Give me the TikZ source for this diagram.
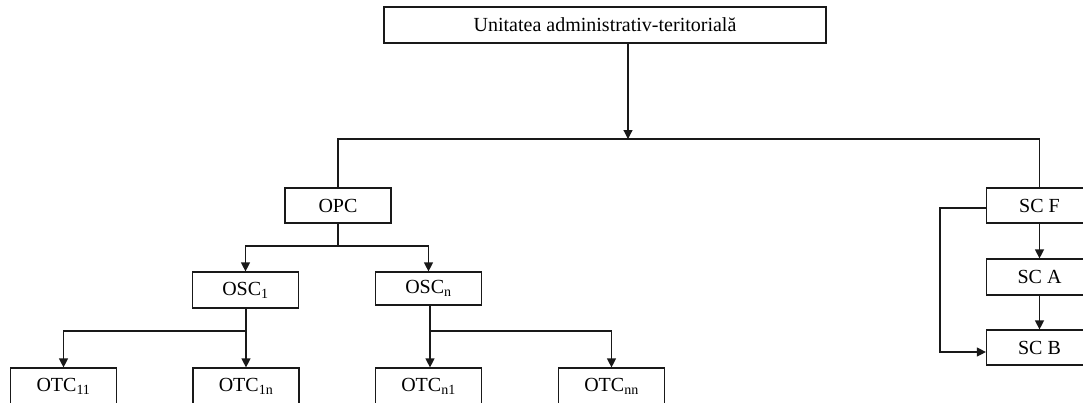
\documentclass[tikz,border=0pt]{standalone}
\usepackage{fontspec}
\setmainfont{Liberation Serif}
\usetikzlibrary{arrows.meta}
\begin{document}
\begin{tikzpicture}[x=1pt,y=-1pt,
  box/.style={draw=black!90, line width=1.2pt, inner sep=0pt, minimum width=106pt, minimum height=35pt, font=\fontsize{20}{24}\selectfont},
  link/.style={draw=black!90, line width=1.2pt},
  arr/.style={link, -{Triangle[width=9pt,length=9pt]}}]
\useasboundingbox (0,0) rectangle (1083,402);
\fill[white] (0,0) rectangle (1083,402);
% nodes
\node[box, minimum width=442pt, minimum height=36pt] (top) at (605,25) {Unitatea administrativ-teritorială};
\node[box] (OPC) at (338,205.5) {OPC};
\node[box] (SCF) at (1039.5,205.5) {SC F};
\node[box, minimum height=36pt] (OSC1) at (245.5,290) {OSC\textsubscript{1}};
\node[box, minimum height=33pt] (OSCn) at (428.5,288.5) {OSC\textsubscript{n}};
\node[box, minimum height=36pt] (SCA) at (1039.5,277) {SC A};
\node[box] (SCB) at (1039.5,347.5) {SC B};
\node[box, minimum height=36pt] (OTC11) at (63.5,386) {OTC\textsubscript{11}};
\node[box, minimum height=36pt] (OTC1n) at (246,386) {OTC\textsubscript{1n}};
\node[box, minimum height=36pt] (OTCn1) at (428.5,386) {OTC\textsubscript{n1}};
\node[box, minimum height=36pt] (OTCnn) at (611.5,386) {OTC\textsubscript{nn}};
% junctions
\coordinate (j0) at (628,139);
\coordinate (j1) at (338,246);
\coordinate (j2) at (246,331);
\coordinate (j3) at (430,331);
\coordinate (j4) at (940,208);
% connectors
\draw[arr] (top.south -| j0) -- (j0);
\draw[link] (OPC.north) -- (OPC.north |- j0) -- (SCF.north |- j0) -- (SCF.north);
\draw[link] (OPC.south) -- (j1);
\draw[arr] (j1) -| (OSC1.north);
\draw[arr] (j1) -| (OSCn.north);
\draw[arr] (OSC1.south -| j2) -- (OTC1n.north -| j2);
\draw[arr] (j2) -| (OTC11.north);
\draw[arr] (OSCn.south -| j3) -- (OTCn1.north -| j3);
\draw[arr] (j3) -| (OTCnn.north);
\draw[arr] (SCF.south) -- (SCA.north);
\draw[arr] (SCA.south) -- (SCB.north);
\draw[arr] (SCF.west |- j4) -- (j4) |- ([yshift=-4.5pt]SCB.west);
\end{tikzpicture}
\end{document}
